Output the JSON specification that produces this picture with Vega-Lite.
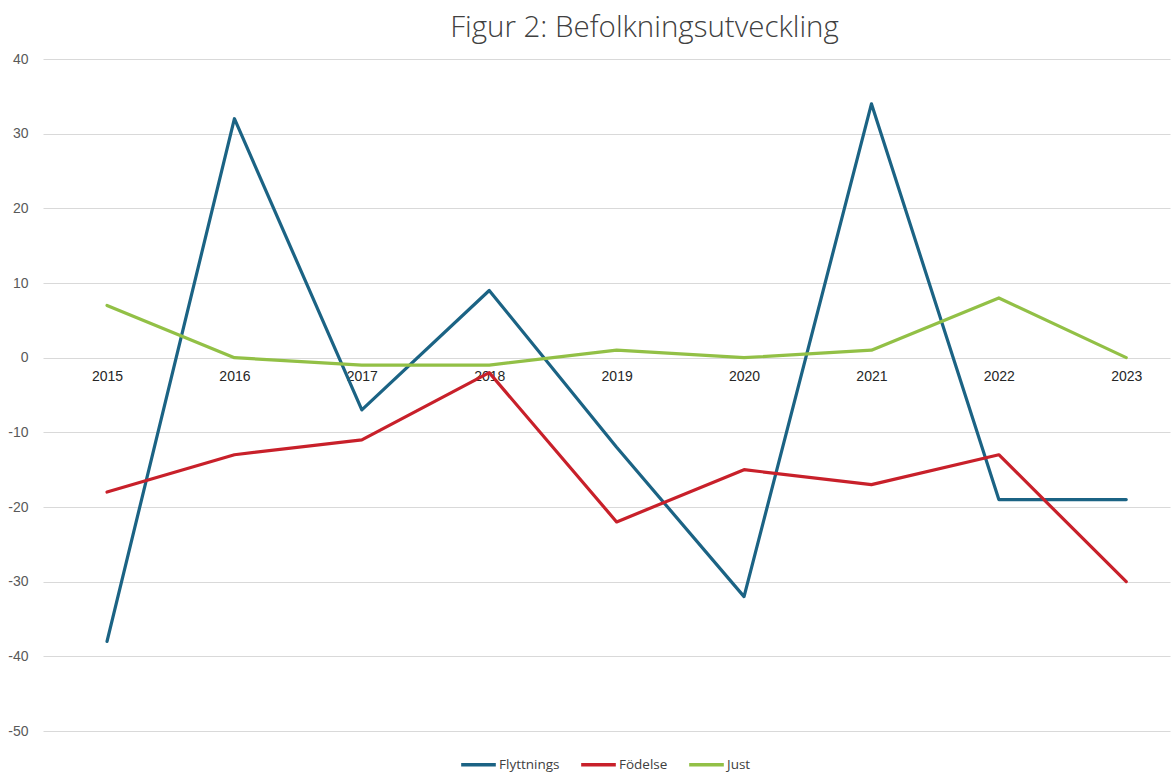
{
  "$schema": "https://vega.github.io/schema/vega-lite/v6.json",
  "autosize": {"type": "none"},
  "padding": {"left": 43, "top": 59, "right": 2, "bottom": 45},
  "width": 1127,
  "height": 672,
  "background": "white",
  "title": {
    "text": "Figur 2: Befolkningsutveckling",
    "font": "Open Sans",
    "fontWeight": 300,
    "fontSize": 29.5,
    "color": "#404040",
    "anchor": "middle",
    "dx": 38,
    "offset": 9
  },
  "data": {
    "values": [
      {"year": "2015", "series": "Flyttnings", "value": -38},
      {"year": "2016", "series": "Flyttnings", "value": 32},
      {"year": "2017", "series": "Flyttnings", "value": -7},
      {"year": "2018", "series": "Flyttnings", "value": 9},
      {"year": "2019", "series": "Flyttnings", "value": -12},
      {"year": "2020", "series": "Flyttnings", "value": -32},
      {"year": "2021", "series": "Flyttnings", "value": 34},
      {"year": "2022", "series": "Flyttnings", "value": -19},
      {"year": "2023", "series": "Flyttnings", "value": -19},
      {"year": "2015", "series": "Födelse", "value": -18},
      {"year": "2016", "series": "Födelse", "value": -13},
      {"year": "2017", "series": "Födelse", "value": -11},
      {"year": "2018", "series": "Födelse", "value": -2},
      {"year": "2019", "series": "Födelse", "value": -22},
      {"year": "2020", "series": "Födelse", "value": -15},
      {"year": "2021", "series": "Födelse", "value": -17},
      {"year": "2022", "series": "Födelse", "value": -13},
      {"year": "2023", "series": "Födelse", "value": -30},
      {"year": "2015", "series": "Just", "value": 7},
      {"year": "2016", "series": "Just", "value": 0},
      {"year": "2017", "series": "Just", "value": -1},
      {"year": "2018", "series": "Just", "value": -1},
      {"year": "2019", "series": "Just", "value": 1},
      {"year": "2020", "series": "Just", "value": 0},
      {"year": "2021", "series": "Just", "value": 1},
      {"year": "2022", "series": "Just", "value": 8},
      {"year": "2023", "series": "Just", "value": 0}
    ]
  },
  "mark": {"type": "line", "strokeWidth": 3.2, "strokeCap": "round", "strokeJoin": "round"},
  "encoding": {
    "x": {
      "field": "year",
      "type": "ordinal",
      "title": null,
      "scale": {"type": "point", "padding": 0.423, "align": 0.594},
      "axis": {
        "orient": "bottom",
        "offset": -373.3,
        "domain": false,
        "ticks": false,
        "tickSize": 0,
        "grid": false,
        "labelAngle": 0,
        "labelPadding": 12,
        "labelFont": "Liberation Sans",
        "labelFontSize": 14,
        "labelColor": "#262626"
      }
    },
    "y": {
      "field": "value",
      "type": "quantitative",
      "title": null,
      "scale": {"domain": [-50, 40], "nice": false, "zero": false},
      "axis": {
        "values": [-50, -40, -30, -20, -10, 0, 10, 20, 30, 40],
        "labelExpr": "'' + datum.value",
        "domain": false,
        "ticks": false,
        "labelPadding": 15,
        "labelFont": "Liberation Sans",
        "labelFontSize": 14,
        "labelColor": "#595959",
        "gridColor": "#d9d9d9",
        "gridWidth": 1
      }
    },
    "color": {
      "field": "series",
      "type": "nominal",
      "title": null,
      "sort": ["Flyttnings", "Födelse", "Just"],
      "scale": {"domain": ["Flyttnings", "Födelse", "Just"], "range": ["#1b6384", "#c8202a", "#92c046"]},
      "legend": {
        "orient": "none",
        "legendX": 416,
        "legendY": 686,
        "padding": 0,
        "direction": "horizontal",
        "symbolType": "stroke",
        "symbolSize": 1200,
        "symbolStrokeWidth": 3.5,
        "labelFont": "Open Sans",
        "labelFontSize": 13.5,
        "labelColor": "#404040",
        "labelOffset": 1,
        "columnPadding": 14
      }
    }
  },
  "config": {"view": {"stroke": null}}
}
